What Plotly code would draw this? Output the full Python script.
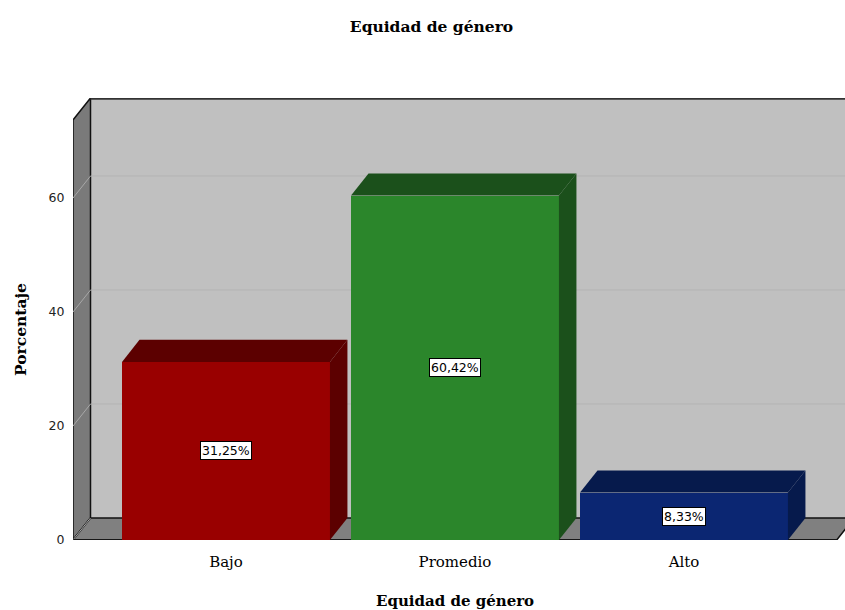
import plotly.graph_objects as go

categories = ["Bajo", "Promedio", "Alto"]
values = [31.25, 60.42, 8.33]
labels = ["31,25%", "60,42%", "8,33%"]
front_colors = ["#990000", "#2b862b", "#0b2672"]
side_colors = ["#5c0000", "#1b501b", "#061a4c"]
y_ticks = [0, 20, 40, 60]

W, H = 845, 610
ML, MR, MT, MB = 73, 0, 98, 70
PW, PH = W - ML - MR, H - MT - MB
PX_PER_CAT = 229.0
PX_PER_UNIT = 5.7
X0 = -0.668
X1 = X0 + PW / PX_PER_CAT
Y1 = PH / PX_PER_UNIT
DX = 17.5 / PX_PER_CAT
DY = 22.0 / PX_PER_UNIT
FRONT_TOP = Y1 - DY
FRONT_RIGHT = 2.667
BAR_W = 0.908

xs = list(range(len(categories)))

fig = go.Figure()
fig.add_trace(go.Bar(x=xs, y=values, width=BAR_W,
                     marker=dict(color=front_colors, line=dict(width=0)),
                     hoverinfo="skip", showlegend=False))

def poly(pts):
    return "M " + " L ".join(f"{x},{y}" for x, y in pts) + " Z"

shapes = []
shapes.append(dict(type="path", layer="below", xref="x", yref="y",
                   path=poly([(X0 + DX, DY), (X0 + DX, Y1), (FRONT_RIGHT + DX, Y1), (FRONT_RIGHT + DX, DY)]),
                   fillcolor="#c0c0c0", line=dict(width=0)))
shapes.append(dict(type="path", layer="below", xref="x", yref="y",
                   path=poly([(X0, 0), (X0, FRONT_TOP), (X0 + DX, Y1), (X0 + DX, DY)]),
                   fillcolor="#7a7a7a", line=dict(color="#111111", width=1.5)))
shapes.append(dict(type="path", layer="below", xref="x", yref="y",
                   path=poly([(X0, 0), (X0 + DX, DY), (FRONT_RIGHT + DX, DY), (FRONT_RIGHT, 0)]),
                   fillcolor="#808080", line=dict(color="#111111", width=1.5)))
for v in y_ticks[1:]:
    shapes.append(dict(type="line", layer="below", xref="x", yref="y",
                       x0=X0 + DX, x1=FRONT_RIGHT + DX, y0=v + DY, y1=v + DY,
                       line=dict(color="#b3b3b3", width=1)))
    shapes.append(dict(type="line", layer="below", xref="x", yref="y",
                       x0=X0, x1=X0 + DX, y0=v, y1=v + DY,
                       line=dict(color="#a8a8a8", width=1)))
shapes.append(dict(type="line", layer="below", xref="x", yref="y",
                   x0=X0, x1=X0 + DX, y0=0, y1=DY, line=dict(color="#a8a8a8", width=1)))
shapes.append(dict(type="line", layer="below", xref="x", yref="y",
                   x0=X0 + DX, x1=FRONT_RIGHT + DX, y0=Y1 - 0.15, y1=Y1 - 0.15,
                   line=dict(color="#333333", width=2)))
for i, v in enumerate(values):
    l, r = i - BAR_W / 2, i + BAR_W / 2
    shapes.append(dict(type="path", layer="above", xref="x", yref="y",
                       path=poly([(l, v), (l + DX, v + DY), (r + DX, v + DY), (r, v)]),
                       fillcolor=side_colors[i], line=dict(width=0)))
    shapes.append(dict(type="path", layer="above", xref="x", yref="y",
                       path=poly([(r, 0), (r, v), (r + DX, v + DY), (r + DX, DY)]),
                       fillcolor=side_colors[i], line=dict(width=0)))

annotations = []
for i, v in enumerate(values):
    annotations.append(dict(x=i, y=v / 2, xref="x", yref="y", text=labels[i], showarrow=False,
                            font=dict(family="DejaVu Sans", size=12.5, color="#000000"),
                            bgcolor="#ffffff", bordercolor="#000000", borderwidth=1, borderpad=1))
# axis titles centred on the front face of the box
front_center_px = ML + ((X0 + FRONT_RIGHT) / 2 - X0) * PX_PER_CAT
annotations.append(dict(x=(front_center_px - ML) / PW, xref="paper", y=-(601 - (H - MB)) / PH, yref="paper",
                        text="<b>Equidad de género</b>", showarrow=False, xanchor="center", yanchor="middle",
                        font=dict(family="DejaVu Serif", size=15, color="#000000")))
annotations.append(dict(x=(20 - ML) / PW, xref="paper", y=(FRONT_TOP / 2) / Y1, yref="paper",
                        text="<b>Porcentaje</b>", showarrow=False, textangle=-90,
                        xanchor="center", yanchor="middle",
                        font=dict(family="DejaVu Serif", size=15.5, color="#000000")))

fig.update_layout(
    width=W, height=H,
    margin=dict(l=ML, r=MR, t=MT, b=MB),
    paper_bgcolor="#ffffff", plot_bgcolor="#ffffff",
    bargap=0,
    title=dict(text="<b>Equidad de género</b>", x=431.5 / W, xanchor="center",
               y=1 - 27 / H, yanchor="middle",
               font=dict(family="DejaVu Serif", size=15.5, color="#000000")),
    xaxis=dict(range=[X0, X1], tickmode="array", tickvals=xs, ticktext=categories,
               showgrid=False, zeroline=False, showline=False,
               ticks="outside", ticklen=8, tickcolor="rgba(0,0,0,0)",
               tickfont=dict(family="DejaVu Serif", size=15, color="#000000")),
    yaxis=dict(range=[0, Y1], tickmode="array", tickvals=y_ticks,
               showgrid=False, zeroline=False, showline=False,
               ticks="outside", ticklen=5, tickcolor="rgba(0,0,0,0)",
               tickfont=dict(family="DejaVu Sans", size=12.5, color="#222222")),
    shapes=shapes,
    annotations=annotations,
)
fig.add_shape(type="line", layer="below", xref="x", yref="y", x0=X0, x1=FRONT_RIGHT, y0=0, y1=0,
              line=dict(color="#111111", width=1.5))

fig.write_html("out.html")
